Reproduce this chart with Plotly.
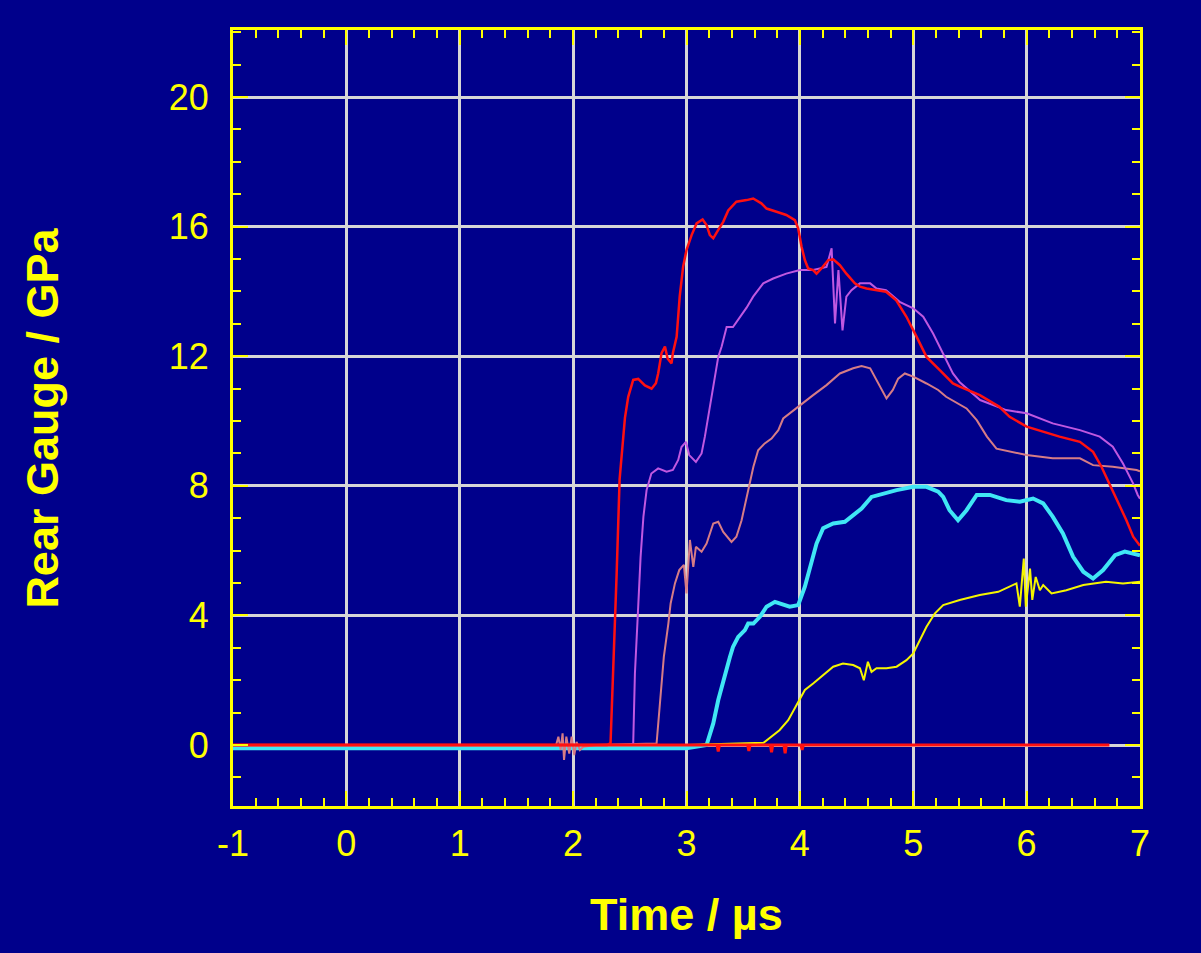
import plotly.graph_objects as go

# ---------------- data ----------------
red_t = [-1.0, 0.0, 1.0, 2.0, 2.30, 2.33, 2.354, 2.384, 2.41, 2.436, 2.457, 2.486, 2.53, 2.574, 2.633,
         2.692, 2.73, 2.75, 2.78, 2.81, 2.833, 2.868, 2.88, 2.913, 2.94, 2.97, 3.0, 3.045, 3.089,
         3.142, 3.177, 3.206, 3.236, 3.28, 3.324, 3.368, 3.44, 3.53, 3.588, 3.66, 3.706, 3.794,
         3.88, 3.956, 3.985, 4.015, 4.044, 4.073, 4.117, 4.147, 4.19, 4.25, 4.294, 4.353, 4.41,
         4.485, 4.53, 4.588, 4.676, 4.76, 4.85, 4.94, 5.03, 5.117, 5.234, 5.35, 5.41, 5.587,
         5.76, 5.85, 6.0, 6.29, 6.47, 6.586, 6.66, 6.73, 6.79, 6.88, 6.94, 7.0]
red_p = [0.0, 0.0, 0.0, 0.0, 0.0, 0.06, 2.2, 5.3, 8.2, 9.4, 10.1, 10.75, 11.27, 11.3, 11.1,
         11.0, 11.17, 11.47, 12.1, 12.3, 11.93, 11.78, 12.1, 12.6, 13.84, 14.76, 15.28, 15.74, 16.1,
         16.22, 16.05, 15.74, 15.64, 15.9, 16.15, 16.5, 16.77, 16.82, 16.87, 16.72, 16.56, 16.46,
         16.36, 16.2, 15.95, 15.38, 14.97, 14.71, 14.66, 14.55, 14.71, 14.97, 14.99, 14.81, 14.55,
         14.25, 14.15, 14.09, 14.04, 13.99, 13.73, 13.22, 12.6, 11.98, 11.57, 11.16, 11.06, 10.8,
         10.44, 10.13, 9.83, 9.52, 9.36, 9.05, 8.59, 8.07, 7.66, 6.94, 6.43, 6.15]

violet_t = [-1.0, 0.0, 1.0, 2.0, 2.5, 2.53, 2.545, 2.574, 2.595, 2.62, 2.648, 2.69, 2.75, 2.824,
            2.88, 2.927, 2.956, 2.995, 3.024, 3.083, 3.133, 3.162, 3.19, 3.22, 3.25, 3.28, 3.31,
            3.354, 3.41, 3.47, 3.53, 3.588, 3.677, 3.765, 3.88, 4.0, 4.117, 4.235, 4.28, 4.31,
            4.34, 4.376, 4.41, 4.455, 4.53, 4.62, 4.676, 4.76, 4.88, 5.0, 5.088, 5.175, 5.264,
            5.35, 5.41, 5.59, 5.82, 6.0, 6.23, 6.47, 6.645, 6.76, 6.85, 6.94, 6.98, 7.0]
violet_p = [0.0, 0.0, 0.0, 0.0, 0.0, 0.05, 2.2, 4.27, 5.8, 7.05, 7.87, 8.38, 8.54, 8.44,
            8.49, 8.8, 9.2, 9.36, 8.95, 8.74, 9.0, 9.52, 10.13, 10.65, 11.37, 11.98, 12.3,
            12.9, 12.9, 13.2, 13.5, 13.84, 14.25, 14.4, 14.55, 14.66, 14.66, 14.76, 15.33, 13.01,
            14.66, 12.8, 13.84, 14.04, 14.25, 14.25, 14.09, 14.04, 13.68, 13.48, 13.22, 12.7, 12.09,
            11.47, 11.2, 10.65, 10.34, 10.24, 9.93, 9.72, 9.52, 9.21, 8.69, 8.07, 7.72, 7.6]

salmon_t = [-1.0, 0.0, 1.0, 1.85, 1.87, 1.89, 1.907, 1.92, 1.94, 1.966, 1.987, 2.01, 2.03, 2.06,
            2.09, 2.2, 2.736, 2.765, 2.80, 2.84, 2.86, 2.898, 2.936, 2.977, 3.0, 3.03, 3.06, 3.083,
            3.133, 3.177, 3.206, 3.236, 3.28, 3.324, 3.397, 3.44, 3.486, 3.53, 3.56, 3.59, 3.632,
            3.69, 3.75, 3.81, 3.853, 3.906, 4.0, 4.117, 4.235, 4.353, 4.47, 4.544, 4.62, 4.676,
            4.735, 4.764, 4.82, 4.867, 4.926, 5.0, 5.117, 5.22, 5.29, 5.47, 5.56, 5.65, 5.734,
            5.88, 6.0, 6.23, 6.47, 6.586, 6.76, 6.97, 7.0]
salmon_p = [0.0, 0.0, 0.0, 0.0, 0.26, -0.15, 0.36, -0.46, 0.26, -0.26, 0.26, -0.31, 0.1, -0.15,
            -0.05, 0.0, 0.05, 1.18, 2.72, 3.75, 4.37, 4.99, 5.4, 5.56, 4.68, 6.33, 5.5, 6.12,
            5.97, 6.22, 6.53, 6.84, 6.89, 6.58, 6.27, 6.43, 6.94, 7.66, 8.18, 8.59, 9.1,
            9.31, 9.46, 9.72, 10.08, 10.23, 10.49, 10.8, 11.11, 11.47, 11.63, 11.7, 11.63, 11.27,
            10.85, 10.7, 10.96, 11.31, 11.47, 11.37, 11.16, 10.96, 10.75, 10.39, 10.03, 9.52, 9.15,
            9.05, 8.95, 8.85, 8.85, 8.64, 8.59, 8.49, 8.45]

cyan_t = [-1.0, 0.0, 1.0, 2.0, 3.0, 3.177, 3.236, 3.28, 3.324, 3.354, 3.383, 3.41, 3.456, 3.515,
          3.544, 3.59, 3.647, 3.706, 3.78, 3.91, 3.985, 4.044, 4.1, 4.147, 4.205, 4.294, 4.397,
          4.47, 4.544, 4.632, 4.735, 4.853, 5.0, 5.117, 5.22, 5.264, 5.32, 5.395, 5.47, 5.56,
          5.676, 5.82, 5.94, 6.057, 6.146, 6.23, 6.32, 6.41, 6.5, 6.586, 6.675, 6.78, 6.866,
          6.97, 7.0]
cyan_p = [-0.1, -0.1, -0.1, -0.1, -0.1, 0.0, 0.67, 1.39, 2.0, 2.42, 2.72, 3.03, 3.34, 3.55,
          3.75, 3.75, 3.96, 4.27, 4.42, 4.27, 4.32, 4.89, 5.6, 6.22, 6.69, 6.84, 6.89,
          7.1, 7.3, 7.66, 7.76, 7.87, 7.97, 7.97, 7.82, 7.66, 7.25, 6.94, 7.25, 7.72,
          7.72, 7.56, 7.51, 7.61, 7.46, 7.05, 6.53, 5.81, 5.35, 5.14, 5.4, 5.86, 5.97,
          5.86, 5.86]

yellow_t = [-1.0, 0.0, 1.0, 2.0, 3.0, 3.68, 3.75, 3.82, 3.897, 3.956, 4.0, 4.044, 4.117, 4.205,
            4.294, 4.38, 4.47, 4.53, 4.564, 4.6, 4.632, 4.676, 4.764, 4.853, 4.94, 5.0, 5.058,
            5.117, 5.19, 5.264, 5.41, 5.587, 5.75, 5.91, 5.94, 5.975, 5.993, 6.03, 6.05, 6.08,
            6.117, 6.146, 6.22, 6.35, 6.5, 6.7, 6.85, 6.98, 7.0]
yellow_p = [0.0, 0.0, 0.0, 0.0, 0.0, 0.07, 0.26, 0.46, 0.77, 1.13, 1.39, 1.7, 1.9, 2.16,
            2.42, 2.52, 2.47, 2.37, 2.0, 2.57, 2.26, 2.37, 2.37, 2.42, 2.62, 2.83, 3.24,
            3.65, 4.06, 4.32, 4.48, 4.63, 4.73, 4.99, 4.27, 5.76, 4.27, 5.45, 4.48, 5.19,
            4.78, 4.94, 4.68, 4.78, 4.94, 5.04, 4.99, 5.04, 5.04]

# red trace that stays on the baseline
flat_t = [-1.0, 0.0, 1.0, 2.0, 3.0, 3.27, 3.28, 3.29, 3.5, 3.54, 3.55, 3.56, 3.7, 3.74, 3.75,
          3.76, 3.85, 3.86, 3.87, 3.88, 4.0, 4.01, 4.02, 4.03, 4.2, 5.0, 6.0, 6.73]
flat_p = [0.0, 0.0, 0.0, 0.0, 0.0, 0.0, -0.2, 0.0, 0.0, 0.0, -0.18, 0.0, 0.0, 0.0, -0.22,
          0.0, 0.0, 0.0, -0.25, 0.0, 0.0, 0.0, -0.15, 0.0, 0.0, 0.0, 0.0, 0.0]

x_ticks = [-1, 0, 1, 2, 3, 4, 5, 6, 7]
y_ticks = [0, 4, 8, 12, 16, 20]

# ---------------- figure ----------------
BG = "#00008B"
YEL = "#FFFF00"
FONT = "Liberation Sans, Arial"

fig = go.Figure()
series = [
    (cyan_t, cyan_p, "#40E6F5", 4),
    (yellow_t, yellow_p, "#F5F500", 2),
    (salmon_t, salmon_p, "#D67C86", 2),
    (violet_t, violet_p, "#C058E0", 2),
    (red_t, red_p, "#FF1010", 2.5),
    (flat_t, flat_p, "#FF1010", 3),
]
for t, p, c, w in series:
    fig.add_trace(go.Scatter(x=t, y=p, mode="lines", line=dict(color=c, width=w),
                             showlegend=False, hoverinfo="skip"))

axis_common = dict(
    showline=True, linecolor=YEL, linewidth=3, mirror="ticks",
    ticks="inside", ticklen=15, tickwidth=2, tickcolor=YEL,
    showgrid=True, gridcolor="#D6D6D6", gridwidth=3,
    zeroline=False,
    tickfont=dict(family=FONT, size=36, color=YEL),
)

fig.update_xaxes(range=[-1, 7], tickvals=x_ticks, ticktext=[str(v) for v in x_ticks],
                 minor=dict(dtick=0.2, ticks="inside", ticklen=8, tickwidth=2, tickcolor=YEL,
                            showgrid=False),
                 ticklabelstandoff=4, **axis_common)
fig.update_yaxes(range=[-1.88, 22.07], tickvals=y_ticks, ticktext=[str(v) for v in y_ticks],
                 minor=dict(dtick=1, tick0=0, ticks="inside", ticklen=8, tickwidth=2, tickcolor=YEL,
                            showgrid=False),
                 ticklabelstandoff=14, **axis_common)

fig.update_layout(
    width=1201, height=953,
    margin=dict(l=233, r=61, t=30, b=147),
    paper_bgcolor=BG, plot_bgcolor=BG,
    annotations=[
        dict(text="<b>Time / µs</b>", xref="paper", yref="paper", x=0.5, y=-0.14,
             xanchor="center", yanchor="middle", showarrow=False,
             font=dict(family=FONT, size=45, color=YEL)),
        dict(text="<b>Rear Gauge / GPa</b>", xref="paper", yref="paper", x=-0.211, y=0.5,
             xanchor="center", yanchor="middle", showarrow=False, textangle=-90,
             font=dict(family=FONT, size=45, color=YEL)),
    ],
)

fig.write_html("out.html")
